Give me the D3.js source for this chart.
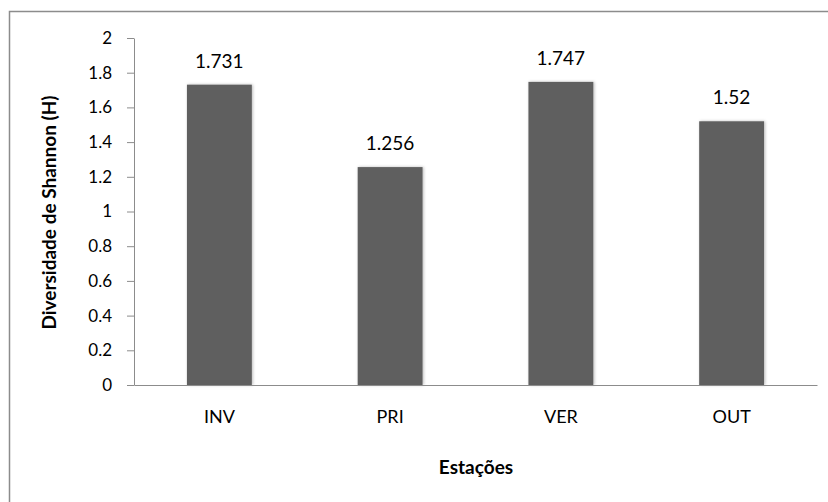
<!DOCTYPE html>
<html>
<head>
<meta charset="utf-8">
<script src="https://cdn.jsdelivr.net/npm/d3@7/dist/d3.min.js"></script>
<style>
  html, body { margin: 0; padding: 0; background: #fff; }
  svg { display: block; }
  text { font-family: Lato, "Open Sans", sans-serif; fill: #000; }
</style>
</head>
<body>
<svg id="chart" width="828" height="502"></svg>
<script>
// Shannon diversity per season
const categories = ["INV", "PRI", "VER", "OUT"];
const values = [1.731, 1.256, 1.747, 1.52];
const valueLabels = ["1.731", "1.256", "1.747", "1.52"];
const yTicks = [0, 0.2, 0.4, 0.6, 0.8, 1, 1.2, 1.4, 1.6, 1.8, 2];
const yTickLabels = ["0", "0.2", "0.4", "0.6", "0.8", "1", "1.2", "1.4", "1.6", "1.8", "2"];
const yTitle = "Diversidade de Shannon (H)";
const xTitle = "Estações";

const svg = d3.select("#chart");
const W = 828, H = 502;
const plot = { left: 134, right: 817, top: 38, bottom: 385 };

// chart area frame
svg.append("rect")
  .attr("x", 9.5).attr("y", 11.5)
  .attr("width", W + 10).attr("height", H + 10)
  .attr("fill", "#fff").attr("stroke", "#8c8c8c").attr("stroke-width", 1.5);

const defs = svg.append("defs");
const f = defs.append("filter").attr("id", "barShadow")
  .attr("x", "-20%").attr("y", "-10%").attr("width", "140%").attr("height", "120%");
f.append("feDropShadow").attr("dx", 1).attr("dy", 0).attr("stdDeviation", 1.6)
  .attr("flood-color", "#000").attr("flood-opacity", 0.28);

const x = d3.scaleBand().domain(categories).range([plot.left, plot.right])
  .paddingInner(0.62).paddingOuter(0.31);
const y = d3.scaleLinear().domain([0, 2]).range([plot.bottom, plot.top]);

// y axis
const yAxis = d3.axisLeft(y).tickValues(yTicks)
  .tickFormat((d, i) => yTickLabels[i]).tickSize(7).tickPadding(15).tickSizeOuter(0);
const gy = svg.append("g").attr("transform", `translate(${plot.left},0)`).call(yAxis);
gy.select(".domain").attr("stroke", "#8c8c8c");
gy.selectAll(".tick line").attr("stroke", "#8c8c8c");
gy.selectAll(".tick text").attr("font-size", 17).attr("font-family", "Lato, sans-serif")
  .attr("fill", "#111");

// bars
svg.append("g").selectAll("rect").data(categories).join("rect")
  .attr("x", d => x(d))
  .attr("y", (d, i) => y(values[i]))
  .attr("width", x.bandwidth())
  .attr("height", (d, i) => y(0) - y(values[i]))
  .attr("fill", "#5f5f5f")
  .attr("filter", "url(#barShadow)");

// value labels
svg.append("g").selectAll("text").data(categories).join("text")
  .attr("x", d => x(d) + x.bandwidth() / 2)
  .attr("y", (d, i) => y(values[i]) - 17)
  .attr("text-anchor", "middle")
  .attr("font-size", 19)
  .attr("fill", "#111")
  .text((d, i) => valueLabels[i]);

// x axis
const xAxis = d3.axisBottom(x).tickSize(0).tickPadding(25).tickSizeOuter(0);
const gx = svg.append("g").attr("transform", `translate(0,${plot.bottom})`).call(xAxis);
gx.select(".domain").attr("stroke", "#8c8c8c");
gx.selectAll(".tick text").attr("font-size", 18).attr("font-family", "Lato, sans-serif")
  .attr("fill", "#111");

// axis titles
svg.append("text")
  .attr("transform", `translate(56,${(plot.top + plot.bottom) / 2 + 1}) rotate(-90)`)
  .attr("text-anchor", "middle")
  .attr("font-size", 19).attr("font-weight", "bold")
  .text(yTitle);

svg.append("text")
  .attr("x", 476)
  .attr("y", 474)
  .attr("text-anchor", "middle")
  .attr("font-size", 19).attr("font-weight", "bold")
  .text(xTitle);
</script>
</body>
</html>
